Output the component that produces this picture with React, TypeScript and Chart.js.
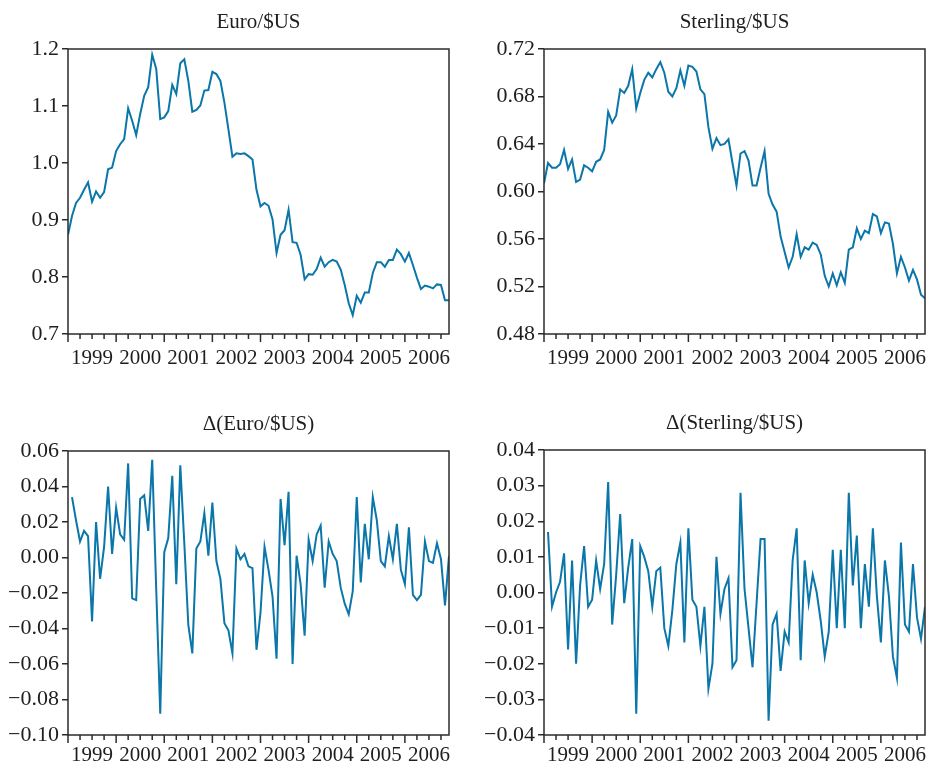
import React, { useEffect, useRef } from 'react';
import { Chart, registerables } from 'chart.js';

Chart.register(...registerables);

// ---------------- data ----------------
const yearLabels = ['1999', '2000', '2001', '2002', '2003', '2004', '2005', '2006'];
const LAST_MONTH = 95; // Jan 1999 = 0 ... Dec 2006 = 95

const euroLevel = [
  0.874, 0.907, 0.930, 0.939, 0.953, 0.966, 0.932, 0.950, 0.939, 0.949, 0.989, 0.992,
  1.021, 1.033, 1.042, 1.096, 1.074, 1.049, 1.086, 1.118, 1.133, 1.190, 1.165, 1.077,
  1.080, 1.091, 1.137, 1.121, 1.175, 1.182, 1.144, 1.090, 1.093, 1.101, 1.127, 1.128,
  1.160, 1.156, 1.144, 1.106, 1.059, 1.011, 1.017, 1.016, 1.017, 1.012, 1.006, 0.953,
  0.924, 0.930, 0.925, 0.901, 0.842, 0.874, 0.882, 0.918, 0.861, 0.860, 0.839, 0.796,
  0.805, 0.804, 0.814, 0.834, 0.818, 0.826, 0.830, 0.827, 0.813, 0.786, 0.754, 0.733,
  0.767, 0.755, 0.773, 0.773, 0.807, 0.826, 0.826, 0.818, 0.830, 0.830, 0.848, 0.840,
  0.827, 0.842, 0.821, 0.799, 0.779, 0.785, 0.783, 0.780, 0.787, 0.786, 0.759, 0.759,
];

const sterlingLevel = [
  0.607, 0.624, 0.620, 0.620, 0.623, 0.635, 0.619, 0.627, 0.608, 0.610, 0.622, 0.620,
  0.617, 0.625, 0.627, 0.635, 0.667, 0.658, 0.664, 0.686, 0.683, 0.689, 0.703, 0.670,
  0.683, 0.694, 0.700, 0.696, 0.703, 0.709, 0.700, 0.684, 0.680, 0.687, 0.702, 0.689,
  0.706, 0.705, 0.701, 0.686, 0.682, 0.654, 0.636, 0.645, 0.639, 0.640, 0.644, 0.624,
  0.605, 0.632, 0.634, 0.626, 0.605, 0.605, 0.620, 0.634, 0.598, 0.589, 0.583, 0.562,
  0.549, 0.536, 0.545, 0.564, 0.545, 0.553, 0.551, 0.557, 0.555, 0.547, 0.529, 0.520,
  0.531, 0.521, 0.532, 0.523, 0.551, 0.553, 0.569, 0.560, 0.567, 0.565, 0.581, 0.579,
  0.565, 0.574, 0.573, 0.556, 0.531, 0.545, 0.536, 0.525, 0.534, 0.526, 0.513, 0.510,
];

// monthly changes, Feb 1999 ... Dec 2006
const euroDelta = [
  0.034, 0.021, 0.009, 0.015, 0.012, -0.036, 0.020, -0.012, 0.006, 0.040, 0.002,
  0.028, 0.013, 0.010, 0.053, -0.023, -0.024, 0.033, 0.035, 0.015, 0.055, -0.018, -0.088,
  0.003, 0.011, 0.046, -0.015, 0.052, 0.008, -0.038, -0.054, 0.005, 0.009, 0.025, 0.001,
  0.031, -0.002, -0.012, -0.037, -0.041, -0.054, 0.005, -0.001, 0.002, -0.005, -0.006, -0.052,
  -0.031, 0.006, -0.007, -0.022, -0.057, 0.033, 0.007, 0.037, -0.060, 0.001, -0.015, -0.044,
  0.010, -0.002, 0.013, 0.018, -0.017, 0.009, 0.002, -0.002, -0.017, -0.026, -0.032, -0.019,
  0.034, -0.014, 0.019, -0.001, 0.034, 0.021, -0.002, -0.005, 0.012, -0.001, 0.019, -0.007,
  -0.015, 0.017, -0.021, -0.024, -0.021, 0.009, -0.002, -0.003, 0.008, -0.001, -0.027, 0.001,
];

const sterlingDelta = [
  0.017, -0.004, 0.000, 0.003, 0.011, -0.016, 0.009, -0.020, 0.002, 0.013, -0.004,
  -0.002, 0.009, 0.001, 0.008, 0.031, -0.009, 0.005, 0.022, -0.003, 0.007, 0.015, -0.034,
  0.013, 0.010, 0.006, -0.004, 0.006, 0.007, -0.010, -0.015, -0.005, 0.008, 0.014, -0.014,
  0.018, -0.002, -0.004, -0.015, -0.004, -0.027, -0.020, 0.010, -0.006, 0.001, 0.004, -0.021,
  -0.019, 0.028, 0.001, -0.010, -0.021, -0.003, 0.015, 0.015, -0.036, -0.009, -0.006, -0.022,
  -0.011, -0.014, 0.009, 0.018, -0.019, 0.009, -0.003, 0.005, 0.000, -0.008, -0.018, -0.011,
  0.012, -0.010, 0.012, -0.010, 0.028, 0.002, 0.016, -0.010, 0.008, -0.004, 0.018, -0.001,
  -0.014, 0.009, -0.001, -0.018, -0.024, 0.014, -0.009, -0.011, 0.008, -0.007, -0.013, -0.004,
];

const euroTicks = [0.7, 0.8, 0.9, 1.0, 1.1, 1.2];
const sterlingTicks = [0.48, 0.52, 0.56, 0.6, 0.64, 0.68, 0.72];
const euroDeltaTicks = [-0.1, -0.08, -0.06, -0.04, -0.02, 0, 0.02, 0.04, 0.06];
const sterlingDeltaTicks = [-0.04, -0.03, -0.02, -0.01, 0, 0.01, 0.02, 0.03, 0.04];

// ---------------- style ----------------
const LINE_COLOR = '#0a76a9';
const AXIS_COLOR = '#2b2b2b';
const TEXT_COLOR = '#1e1e1e';
const FONT_FAMILY = '"Liberation Serif", "Times New Roman", serif';
const FONT_SIZE = 21;
const Y_FONT_SIZE = 22;

const framePlugin = {
  id: 'panelFrame',
  afterDraw(chart: any, _args: any, opts: any) {
    const { ctx, chartArea: a, scales } = chart;
    const x = scales.x;
    ctx.save();
    ctx.strokeStyle = AXIS_COLOR;
    ctx.lineWidth = 1.5;
    ctx.strokeRect(a.left, a.top, a.right - a.left, a.bottom - a.top);
    ctx.beginPath();
    for (let m = 0; m <= LAST_MONTH; m += 3) {
      const px = x.getPixelForValue(m);
      const len = m % 12 === 0 ? 8 : 5;
      ctx.moveTo(px, a.bottom);
      ctx.lineTo(px, a.bottom + len);
    }
    ctx.stroke();
    ctx.fillStyle = TEXT_COLOR;
    ctx.font = `${FONT_SIZE}px ${FONT_FAMILY}`;
    ctx.textAlign = 'center';
    ctx.textBaseline = 'middle';
    ctx.fillText(opts.title, (a.left + a.right) / 2, a.top - 27);
    ctx.restore();
  },
};

function fmt(v: number, decimals: number) {
  if (Math.abs(v) < 1e-9) return (0).toFixed(decimals);
  return (v < 0 ? '\u2212' : '') + Math.abs(v).toFixed(decimals);
}

type Box = { left: number; top: number; width: number; height: number };
type Area = { left: number; top: number; right: number; bottom: number };

type PanelProps = {
  title: string;
  values: number[];
  firstMonth: number;
  yTicks: number[];
  decimals: number;
  box: Box;
  area: Area;
  xLabelPadding: number;
};

function Panel(p: PanelProps) {
  const ref = useRef<HTMLCanvasElement>(null);
  useEffect(() => {
    const canvas = ref.current;
    if (!canvas) return;
    const points = p.values.map((v, k) => ({ x: p.firstMonth + k, y: v }));
    const yMin = p.yTicks[0];
    const yMax = p.yTicks[p.yTicks.length - 1];
    const xAxisHeight = p.box.height - p.area.bottom;
    const chart = new Chart(canvas, {
      type: 'line',
      data: {
        datasets: [
          {
            data: points,
            borderColor: LINE_COLOR,
            borderWidth: 2,
            pointRadius: 0,
            tension: 0,
            fill: false,
          },
        ],
      },
      options: {
        animation: false,
        responsive: false,
        events: [],
        layout: {
          padding: {
            left: 0,
            top: p.area.top,
            right: p.box.width - p.area.right,
            bottom: 0,
          },
        },
        plugins: {
          legend: { display: false },
          tooltip: { enabled: false },
          title: { display: false },
          panelFrame: { title: p.title },
        } as any,
        scales: {
          x: {
            type: 'linear',
            min: 0,
            max: LAST_MONTH,
            grid: { display: false, drawTicks: false },
            border: { display: false },
            afterBuildTicks: (s: any) => {
              s.ticks = yearLabels.map((_, k) => ({ value: k * 12 + 6 }));
            },
            afterFit: (s: any) => {
              s.height = xAxisHeight;
              s.paddingLeft = 0;
              s.paddingRight = 0;
            },
            ticks: {
              autoSkip: false,
              maxRotation: 0,
              padding: p.xLabelPadding,
              color: TEXT_COLOR,
              font: { family: FONT_FAMILY, size: FONT_SIZE },
              callback: (_v: any, idx: number) => yearLabels[idx],
            },
          },
          y: {
            type: 'linear',
            min: yMin,
            max: yMax,
            grid: {
              drawOnChartArea: false,
              tickLength: 6,
              color: AXIS_COLOR,
              lineWidth: 1.5,
            },
            border: { display: false },
            afterBuildTicks: (s: any) => {
              s.ticks = p.yTicks.map((v) => ({ value: v }));
            },
            afterFit: (s: any) => {
              s.width = p.area.left;
            },
            ticks: {
              padding: 3,
              color: TEXT_COLOR,
              font: { family: FONT_FAMILY, size: Y_FONT_SIZE },
              callback: (v: any) => fmt(Number(v), p.decimals),
            },
          },
        },
      } as any,
      plugins: [framePlugin],
    });
    return () => chart.destroy();
  }, []);
  return (
    <canvas
      ref={ref}
      width={p.box.width}
      height={p.box.height}
      style={{
        position: 'absolute',
        left: p.box.left,
        top: p.box.top,
        width: p.box.width,
        height: p.box.height,
      }}
    />
  );
}

export default function App() {
  return (
    <div
      style={{
        position: 'fixed',
        left: 0,
        top: 0,
        width: 927,
        height: 767,
        background: '#ffffff',
        overflow: 'hidden',
      }}
    >
      <Panel
        title="Euro/$US"
        values={euroLevel}
        firstMonth={0}
        yTicks={euroTicks}
        decimals={1}
        box={{ left: 0, top: 0, width: 463, height: 383 }}
        area={{ left: 68, top: 49, right: 449, bottom: 334 }}
        xLabelPadding={12}
      />
      <Panel
        title="Sterling/$US"
        values={sterlingLevel}
        firstMonth={0}
        yTicks={sterlingTicks}
        decimals={2}
        box={{ left: 463, top: 0, width: 464, height: 383 }}
        area={{ left: 81, top: 49, right: 462, bottom: 334 }}
        xLabelPadding={12}
      />
      <Panel
        title={'\u0394(Euro/$US)'}
        values={euroDelta}
        firstMonth={1}
        yTicks={euroDeltaTicks}
        decimals={2}
        box={{ left: 0, top: 383, width: 463, height: 384 }}
        area={{ left: 68, top: 68, right: 449, bottom: 352 }}
        xLabelPadding={8}
      />
      <Panel
        title={'\u0394(Sterling/$US)'}
        values={sterlingDelta}
        firstMonth={1}
        yTicks={sterlingDeltaTicks}
        decimals={2}
        box={{ left: 463, top: 383, width: 464, height: 384 }}
        area={{ left: 81, top: 67, right: 462, bottom: 352 }}
        xLabelPadding={8}
      />
    </div>
  );
}
